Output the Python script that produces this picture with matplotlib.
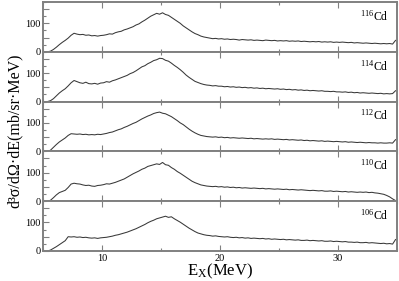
import numpy as np
import matplotlib
matplotlib.use("Agg")
import matplotlib.pyplot as plt
from matplotlib.ticker import MultipleLocator, FuncFormatter

plt.rcParams['font.family'] = ['Liberation Serif', 'DejaVu Serif']
plt.rcParams['mathtext.fontset'] = 'stix'

# spectra sampled every 0.25 MeV (bin centres), 5 -> 35 MeV
e_min, e_max, e_step = 5.0, 35.0, 0.25

isotopes = ['116', '114', '112', '110', '106']

cd116 = [0, 0, 2, 8, 16, 25, 33, 40, 48, 58, 65, 62, 60, 61, 58, 59,
         56, 57, 55, 57, 58, 60, 63, 62, 67, 70, 72, 77, 80, 84, 88, 94,
         98, 105, 111, 118, 125, 130, 135, 132, 137, 131, 128, 121, 114, 107, 100, 91,
         84, 77, 70, 64, 60, 55, 52, 50, 48, 46, 47, 45, 46, 44, 45, 43,
         44, 43, 41, 43, 42, 41, 42, 40, 41, 40, 39, 41, 40, 39, 40, 38,
         39, 38, 39, 37, 38, 37, 38, 36, 37, 36, 35, 36, 35, 36, 34, 35,
         34, 35, 33, 34, 33, 34, 33, 32, 33, 31, 32, 31, 30, 31, 30, 29,
         30, 29, 28, 29, 28, 29, 27, 40]

cd114 = [0, 0, 3, 10, 20, 30, 38, 45, 55, 66, 74, 70, 66, 64, 68, 63,
         62, 64, 61, 65, 66, 70, 68, 73, 76, 80, 84, 88, 92, 98, 102, 108,
         115, 122, 126, 133, 138, 144, 147, 152, 151, 145, 142, 135, 127, 120, 112, 103,
         93, 85, 78, 71, 67, 63, 60, 58, 57, 55, 56, 54, 54, 52, 53, 51,
         52, 50, 51, 49, 50, 48, 49, 47, 48, 46, 47, 45, 46, 45, 44, 45,
         43, 44, 42, 43, 41, 42, 40, 41, 39, 40, 38, 39, 38, 37, 38, 36,
         36, 35, 36, 34, 34, 33, 34, 32, 33, 31, 32, 30, 31, 30, 29, 30,
         29, 28, 29, 27, 28, 27, 28, 38]

cd112 = [0, 0, 4, 14, 24, 33, 40, 47, 56, 62, 61, 60, 61, 59, 60, 58,
         59, 58, 60, 59, 61, 63, 66, 68, 72, 76, 79, 84, 88, 93, 98, 102,
         108, 114, 119, 124, 128, 133, 136, 138, 134, 132, 127, 122, 115, 108, 100, 94,
         86, 78, 71, 65, 60, 56, 54, 52, 51, 50, 51, 49, 50, 48, 49, 47,
         48, 47, 46, 47, 46, 45, 46, 44, 45, 44, 43, 44, 43, 44, 42, 43,
         42, 41, 42, 40, 41, 40, 39, 40, 38, 39, 37, 38, 37, 36, 37, 35,
         36, 35, 34, 35, 34, 33, 34, 32, 33, 32, 31, 32, 31, 30, 31, 30,
         30, 29, 30, 29, 29, 30, 29, 41]

cd110 = [0, 0, 3, 12, 22, 30, 34, 38, 48, 60, 63, 61, 60, 57, 55, 56,
         53, 52, 55, 56, 58, 61, 60, 63, 66, 70, 74, 78, 84, 90, 96, 101,
         106, 112, 116, 122, 125, 128, 131, 129, 136, 128, 126, 118, 112, 104, 98, 91,
         84, 77, 70, 65, 61, 57, 55, 53, 52, 51, 52, 50, 51, 49, 50, 48,
         49, 47, 48, 46, 47, 46, 45, 46, 45, 44, 45, 43, 44, 43, 42, 43,
         42, 41, 42, 40, 41, 40, 39, 40, 39, 38, 37, 38, 37, 36, 37, 35,
         35, 36, 34, 35, 34, 33, 34, 32, 33, 32, 31, 32, 31, 32, 30, 31,
         29, 28, 26, 24, 20, 15, 8, 2]

cd106 = [0, 0, 3, 9, 15, 22, 29, 36, 50, 49, 50, 48, 49, 47, 48, 46,
         45, 46, 44, 46, 47, 48, 50, 52, 55, 57, 60, 63, 66, 70, 74, 78,
         83, 88, 93, 99, 104, 108, 113, 116, 119, 122, 118, 120, 113, 107, 101, 94,
         87, 80, 74, 68, 63, 60, 57, 55, 54, 52, 53, 51, 50, 49, 50, 48,
         47, 48, 46, 47, 45, 46, 44, 45, 44, 43, 44, 42, 43, 41, 42, 41,
         40, 41, 39, 40, 39, 38, 39, 37, 37, 38, 36, 37, 36, 35, 36, 34,
         34, 35, 33, 34, 33, 32, 33, 31, 31, 30, 31, 29, 29, 30, 28, 29,
         28, 27, 26, 27, 25, 26, 24, 40]

spectra = [cd116, cd114, cd112, cd110, cd106]

energies = np.arange(e_min + e_step / 2, e_max, e_step)
frame_col = '#808080'

fig, axes = plt.subplots(5, 1, figsize=(3.99, 2.81), dpi=100, sharex=True)
fig.subplots_adjust(left=0.108, right=0.995, top=0.993, bottom=0.107, hspace=0)

for ax, iso, vals in zip(axes, isotopes, spectra):
    ax.plot(energies, vals, color='#383838', lw=0.75)
    ax.set_xlim(e_min, e_max)
    ax.set_ylim(0, 175)
    ax.yaxis.set_major_locator(MultipleLocator(50))
    ax.yaxis.set_minor_locator(MultipleLocator(25))
    ax.yaxis.set_major_formatter(FuncFormatter(lambda v, p: f'{int(v)}' if v in (0, 100) else ''))
    ax.xaxis.set_major_locator(MultipleLocator(10))
    ax.xaxis.set_minor_locator(MultipleLocator(5))
    ax.tick_params(which='both', direction='in', top=True, right=False,
                   color=frame_col, labelsize=7.5, pad=2)
    ax.tick_params(which='major', length=4, width=0.8)
    ax.tick_params(which='minor', length=2.5, width=0.8)
    for s in ax.spines.values():
        s.set_color(frame_col)
        s.set_linewidth(1.4)
    ax.text(0.975, 0.86, r'$^{\mathregular{' + iso + '}}$Cd', transform=ax.transAxes,
            ha='right', va='top', fontsize=8.5)

axes[-1].set_xlabel(r'E$_{\mathregular{X}}$(MeV)', fontsize=12, labelpad=-1)
fig.text(0.038, 0.535, 'd³σ/dΩ·dE(mb/sr·MeV)', rotation=90, ha='center', va='center',
         fontsize=11.5)

fig.savefig('out.png', dpi=100)
